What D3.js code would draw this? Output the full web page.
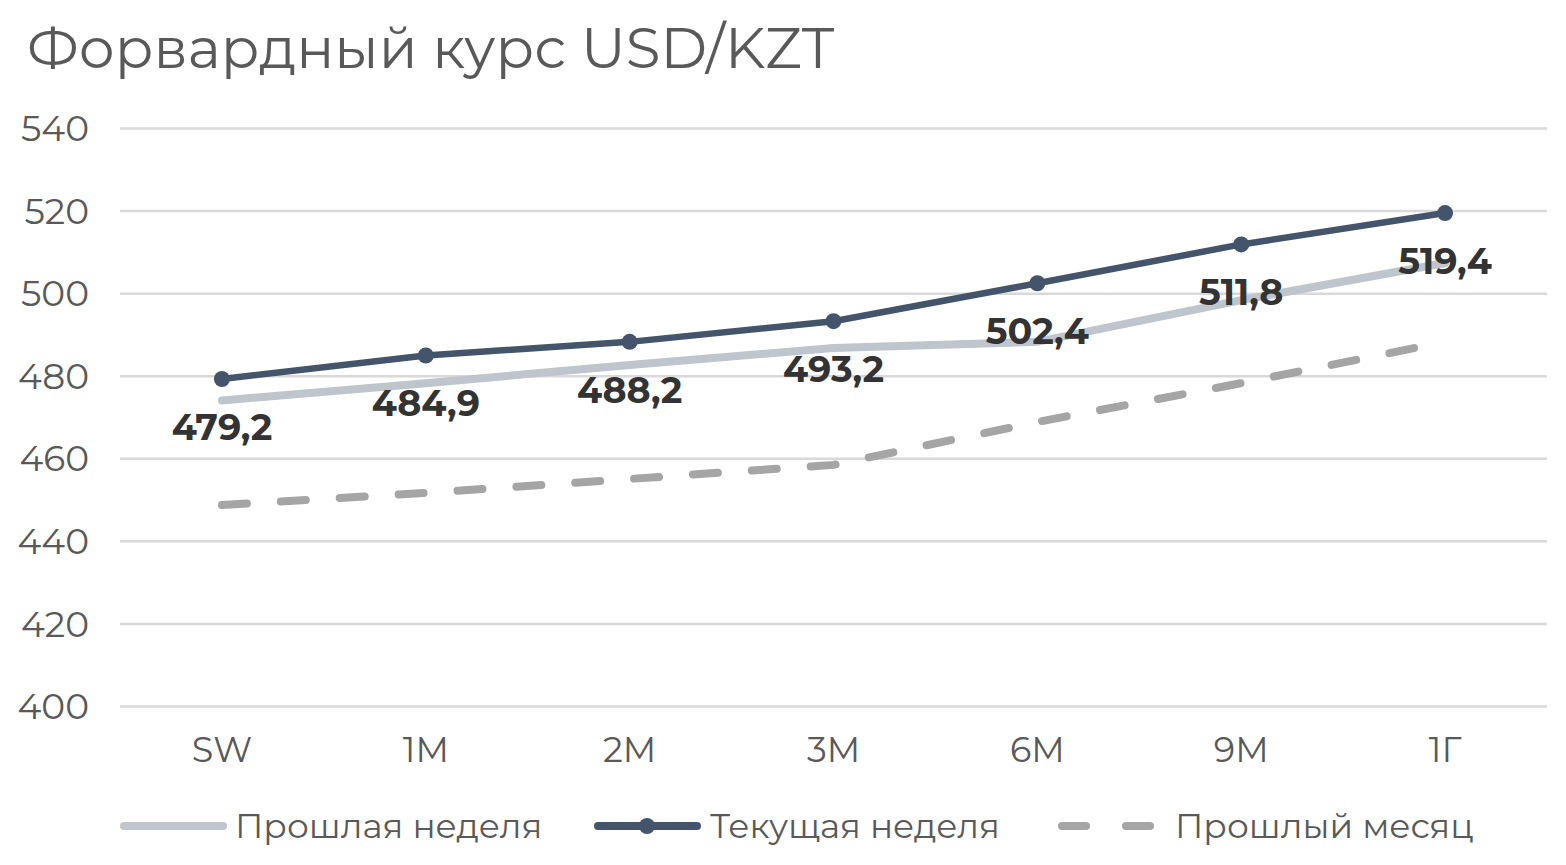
<!DOCTYPE html>
<html><head><meta charset="utf-8">
<script src="https://cdn.jsdelivr.net/npm/d3@7"></script>
<style>body{margin:0;background:#fff;}svg{display:block;font-family:"Montserrat","Lato","Open Sans",sans-serif;}</style>
</head><body>
<svg id="c" width="1566" height="865"></svg>
<script>
const categories = ["SW","1M","2M","3M","6M","9M","1Г"];
const currentWeek = [479.2,484.9,488.2,493.2,502.4,511.8,519.4];
const lastWeek = [474.0,478.2,482.6,486.7,488.2,498.3,507.3];
const lastMonth = [448.7,451.6,455.0,458.4,468.8,478.2,488.2];
const currentLabels = ["479,2","484,9","488,2","493,2","502,4","511,8","519,4"];
const yTicks = [400,420,440,460,480,500,520,540];
const seriesNames = ["Прошлая неделя","Текущая неделя","Прошлый месяц"];
const title = "Форвардный курс USD/KZT";

(function(){
const FF = '"Montserrat","Lato","Open Sans",sans-serif';
const svg = d3.select("#c");
const mLeft = 120, mRight = 1547, mTop = 128, mBottom = 706;
const x = d3.scaleBand().domain(categories).range([mLeft, mRight]);
const cx = c => x(c) + x.bandwidth()/2;
const y = d3.scaleLinear().domain([400,540]).range([mBottom, mTop]);

svg.append("text").attr("x",27).attr("y",68).attr("font-size",56.5).attr("fill","#595959").text(title);

const yAxis = d3.axisLeft(y).tickValues(yTicks).tickSize(-(mRight-mLeft)).tickFormat(d3.format("d"));
const ga = svg.append("g").attr("transform",`translate(${mLeft},0)`).call(yAxis).attr("font-family",FF);
ga.select(".domain").remove();
ga.selectAll(".tick line").attr("stroke","#d9d9d9").attr("stroke-width",2.5);
ga.selectAll(".tick text").attr("x",-31).attr("font-size",36).attr("fill","#595959").attr("dy","0.35em");

const xAxis = d3.axisBottom(x).tickSize(0);
const gx = svg.append("g").attr("transform",`translate(0,${mBottom})`).call(xAxis).attr("font-family",FF);
gx.select(".domain").remove();
gx.selectAll(".tick text").attr("y",44).attr("dy","0.35em").attr("font-size",35).attr("fill","#595959");

const line = d3.line().x((d,i)=>cx(categories[i])).y(d=>y(d));

svg.append("path").datum(lastMonth).attr("d",line).attr("fill","none")
  .attr("stroke","#a5a5a5").attr("stroke-width",8).attr("stroke-linecap","round")
  .attr("stroke-dasharray","25,34");
svg.append("path").datum(lastWeek).attr("d",line).attr("fill","none")
  .attr("stroke","#bfc5cc").attr("stroke-width",8).attr("stroke-linecap","round");
svg.append("path").datum(currentWeek).attr("d",line).attr("fill","none")
  .attr("stroke","#44546a").attr("stroke-width",6.5).attr("stroke-linejoin","round");
svg.selectAll("circle.pt").data(currentWeek).join("circle").attr("class","pt")
  .attr("cx",(d,i)=>cx(categories[i])).attr("cy",d=>y(d)).attr("r",8).attr("fill","#44546a");

svg.selectAll("text.lbl").data(currentWeek).join("text").attr("class","lbl")
  .attr("x",(d,i)=>cx(categories[i])).attr("y",d=>y(d)+48).attr("dy","0.35em")
  .attr("text-anchor","middle").attr("font-size",36.5).attr("font-weight","bold").attr("fill","#333333")
  .text((d,i)=>currentLabels[i]);

const ly = 826;
const lg = svg.append("g").attr("font-size",34.4).attr("fill","#595959");
lg.append("line").attr("x1",124).attr("x2",223).attr("y1",ly).attr("y2",ly).attr("stroke","#bfc5cc").attr("stroke-width",8).attr("stroke-linecap","round");
lg.append("text").attr("x",235).attr("y",ly).attr("dy","0.35em").text(seriesNames[0]);
lg.append("line").attr("x1",598).attr("x2",697).attr("y1",ly).attr("y2",ly).attr("stroke","#44546a").attr("stroke-width",8).attr("stroke-linecap","round");
lg.append("circle").attr("cx",647).attr("cy",ly).attr("r",8).attr("fill","#44546a");
lg.append("text").attr("x",710).attr("y",ly).attr("dy","0.35em").text(seriesNames[1]);
lg.append("line").attr("x1",1062).attr("x2",1152).attr("y1",ly).attr("y2",ly).attr("stroke","#a5a5a5").attr("stroke-width",8).attr("stroke-linecap","round").attr("stroke-dasharray","24,40");
lg.append("text").attr("x",1175).attr("y",ly).attr("dy","0.35em").text(seriesNames[2]);
})();
</script>
</body></html>
